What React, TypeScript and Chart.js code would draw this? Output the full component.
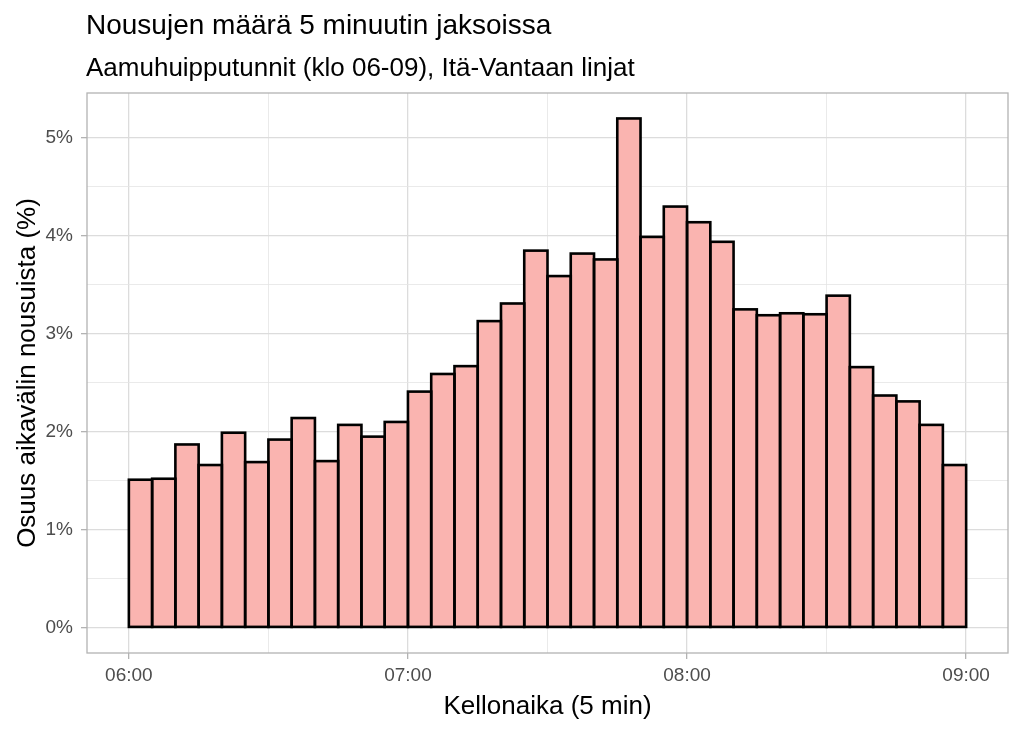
import React, { useEffect, useRef } from 'react';
import { Chart, registerables } from 'chart.js';

Chart.register(...registerables);

const titleText = 'Nousujen määrä 5 minuutin jaksoissa';
const subtitleText = 'Aamuhuipputunnit (klo 06-09), Itä-Vantaan linjat';
const xAxisTitle = 'Kellonaika (5 min)';
const yAxisTitle = 'Osuus aikavälin nousuista (%)';

// start of each 5-minute bin
const binStarts = [
  '06:00', '06:05', '06:10', '06:15', '06:20', '06:25', '06:30', '06:35', '06:40', '06:45', '06:50', '06:55',
  '07:00', '07:05', '07:10', '07:15', '07:20', '07:25', '07:30', '07:35', '07:40', '07:45', '07:50', '07:55',
  '08:00', '08:05', '08:10', '08:15', '08:20', '08:25', '08:30', '08:35', '08:40', '08:45', '08:50', '08:55',
];

// share of boardings (%) per bin
const shares = [
  1.51, 1.52, 1.87, 1.66, 1.99, 1.69, 1.92, 2.14, 1.70, 2.07, 1.95, 2.10,
  2.41, 2.59, 2.67, 3.13, 3.31, 3.85, 3.59, 3.82, 3.76, 5.20, 3.99, 4.30,
  4.14, 3.94, 3.25, 3.19, 3.21, 3.20, 3.39, 2.66, 2.37, 2.31, 2.07, 1.66,
];

const xTickLabels = ['06:00', '07:00', '08:00', '09:00'];
const yTickLabels = ['0%', '1%', '2%', '3%', '4%', '5%'];

const BIN_MIN = 5;
const FONT = '"Liberation Sans", Arial, Helvetica, sans-serif';
const GRID_MAJOR = 'rgb(220,220,220)';
const GRID_MINOR = 'rgb(229,229,229)';
const AXIS_GREY = '#B3B3B3';
const BAR_FILL = '#FAB4B0';
const BAR_OUTLINE = '#000000';

const toMinutes = (t: string) => {
  const [h, m] = t.split(':').map(Number);
  return (h - 6) * 60 + m;
};

export default function App() {
  const ref = useRef<HTMLCanvasElement | null>(null);

  useEffect(() => {
    const canvas = ref.current;
    if (!canvas) return;

    const points = binStarts.map((t, i) => ({ x: toMinutes(t) + BIN_MIN / 2, y: shares[i] }));
    const spanMin = (xTickLabels.length - 1) * 60;
    const xPad = spanMin * 0.05;
    const yMaxData = Math.max(...shares);
    const yPad = yMaxData * 0.05;

    const xGrid: number[] = [];
    for (let v = 0; v <= spanMin; v += 30) xGrid.push(v);
    const yGrid: number[] = [];
    for (let v = 0; v <= yTickLabels.length - 1; v += 0.5) yGrid.push(v);

    // ggplot-style centred outlines around each bar element produced by Chart.js
    const barOutline = {
      id: 'barOutline',
      afterDatasetsDraw(chart: any) {
        const { ctx } = chart;
        const meta = chart.getDatasetMeta(0);
        ctx.save();
        ctx.strokeStyle = BAR_OUTLINE;
        ctx.lineWidth = 2.6;
        ctx.lineJoin = 'miter';
        meta.data.forEach((el: any) => {
          const { x, y, base, width } = el.getProps(['x', 'y', 'base', 'width'], true);
          ctx.strokeRect(x - width / 2, y, width, base - y);
        });
        ctx.restore();
      },
    };

    const panelBorder = {
      id: 'panelBorder',
      afterDraw(chart: any) {
        const { ctx, chartArea: a } = chart;
        ctx.save();
        ctx.strokeStyle = AXIS_GREY;
        ctx.lineWidth = 1.3;
        ctx.strokeRect(a.left, a.top, a.right - a.left, a.bottom - a.top);
        ctx.restore();
      },
    };

    const titles = {
      id: 'ggTitles',
      afterDraw(chart: any) {
        const { ctx, chartArea: a } = chart;
        ctx.save();
        ctx.fillStyle = '#000';
        ctx.textAlign = 'left';
        ctx.textBaseline = 'alphabetic';
        ctx.font = `28px ${FONT}`;
        ctx.fillText(titleText, a.left - 1, 34);
        ctx.font = `26px ${FONT}`;
        ctx.fillText(subtitleText, a.left - 1, 76);
        ctx.restore();
      },
    };

    const chart = new Chart(canvas, {
      type: 'bar',
      data: {
        datasets: [
          {
            data: points,
            backgroundColor: BAR_FILL,
            borderWidth: 0,
            inflateAmount: 0,
            barPercentage: 1,
            categoryPercentage: 1,
          } as any,
        ],
      },
      options: {
        responsive: false,
        animation: false,
        events: [],
        layout: { padding: { top: 93, right: 16, bottom: 0, left: 0 } },
        plugins: {
          legend: { display: false },
          tooltip: { enabled: false },
          title: { display: false },
        },
        scales: {
          x: {
            type: 'linear',
            min: -xPad,
            max: spanMin + xPad,
            offset: false,
            afterBuildTicks: (s: any) => {
              s.ticks = xGrid.map((v) => ({ value: v }));
            },
            afterFit: (s: any) => {
              s.height = 79;
            },
            border: { display: false },
            grid: {
              offset: false,
              drawTicks: true,
              tickLength: 6,
              color: (c: any) => (c.tick && c.tick.value % 60 === 0 ? GRID_MAJOR : GRID_MINOR),
              lineWidth: (c: any) => (c.tick && c.tick.value % 60 === 0 ? 1.3 : 0.8),
              tickColor: (c: any) => (c.tick && c.tick.value % 60 === 0 ? AXIS_GREY : 'rgba(0,0,0,0)'),
              tickWidth: 1.3,
            },
            ticks: {
              autoSkip: false,
              maxRotation: 0,
              minRotation: 0,
              padding: 5,
              color: '#4D4D4D',
              font: { family: FONT, size: 19 },
              callback: (v: any) => (Number(v) % 60 === 0 ? xTickLabels[Number(v) / 60] : ''),
            },
            title: {
              display: true,
              text: xAxisTitle,
              color: '#000',
              font: { family: FONT, size: 26 },
              padding: { top: 0, bottom: 10 },
            },
          },
          y: {
            type: 'linear',
            min: -yPad,
            max: yMaxData + yPad,
            afterBuildTicks: (s: any) => {
              s.ticks = yGrid.map((v) => ({ value: v }));
            },
            afterFit: (s: any) => {
              s.width = 87;
            },
            border: { display: false },
            grid: {
              drawTicks: true,
              tickLength: 6,
              color: (c: any) => (c.tick && Number.isInteger(c.tick.value) ? GRID_MAJOR : GRID_MINOR),
              lineWidth: (c: any) => (c.tick && Number.isInteger(c.tick.value) ? 1.3 : 0.8),
              tickColor: (c: any) => (c.tick && Number.isInteger(c.tick.value) ? AXIS_GREY : 'rgba(0,0,0,0)'),
              tickWidth: 1.3,
            },
            ticks: {
              autoSkip: false,
              padding: 8,
              color: '#4D4D4D',
              font: { family: FONT, size: 19 },
              callback: (v: any) => (Number.isInteger(Number(v)) ? yTickLabels[Number(v)] : ''),
            },
            title: {
              display: true,
              text: yAxisTitle,
              color: '#000',
              font: { family: FONT, size: 26 },
              padding: { top: 12, bottom: 0 },
            },
          },
        },
      } as any,
      plugins: [barOutline, panelBorder, titles],
    });

    return () => chart.destroy();
  }, []);

  return (
    <div style={{ position: 'fixed', left: 0, top: 0, width: 1024, height: 732, background: '#fff' }}>
      <canvas ref={ref} width={1024} height={732} style={{ display: 'block', width: 1024, height: 732 }} />
    </div>
  );
}
